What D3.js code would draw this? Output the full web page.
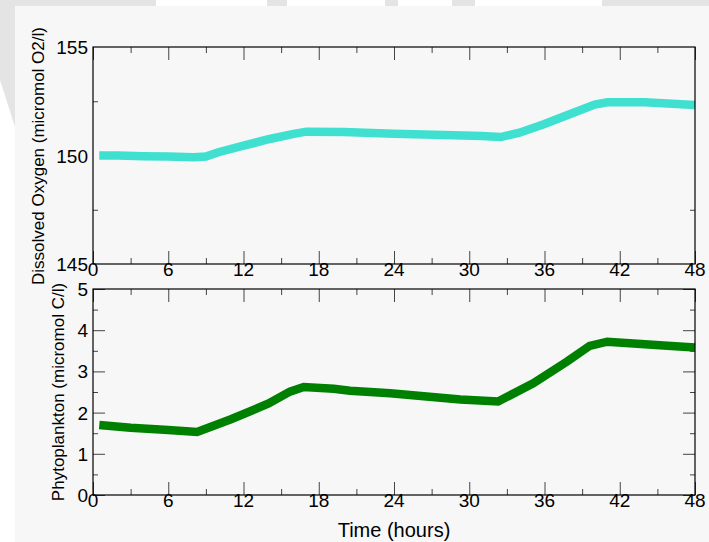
<!DOCTYPE html>
<html>
<head>
<meta charset="utf-8">
<script src="https://cdn.jsdelivr.net/npm/d3@7"></script>
<style>
  body { margin: 0; background: #ffffff; }
  svg { display: block; font-family: "Liberation Sans", Arial, sans-serif; }
</style>
</head>
<body>
<div class="chart"></div>
<script>
// hours for each series
const hours = [0.5, 2, 4, 6, 8, 9, 10, 12, 14, 16, 17, 20, 24, 28, 31, 32.5, 34, 36, 38, 40, 41, 44, 48];
const oxygen = [150.0, 150.0, 149.97, 149.95, 149.92, 149.95, 150.15, 150.45, 150.75, 151.0, 151.1, 151.08, 151.0, 150.95, 150.9, 150.85, 151.05, 151.45, 151.9, 152.35, 152.45, 152.45, 152.33];
const hoursP = [0.5, 3, 6, 8.3, 11, 14, 15.7, 16.8, 19.2, 20.5, 23.7, 26.6, 29.3, 32.3, 35.1, 37.8, 39.6, 41, 43.1, 45.8, 48];
const phyto = [1.7, 1.63, 1.58, 1.53, 1.84, 2.22, 2.51, 2.62, 2.58, 2.53, 2.47, 2.39, 2.32, 2.27, 2.71, 3.24, 3.62, 3.72, 3.68, 3.62, 3.58];

const xMajor = [0, 6, 12, 18, 24, 30, 36, 42, 48];
const xMinor = [3, 9, 15, 21, 27, 33, 39, 45];
const oxLabels = [145, 150, 155];
const oxMinor = [147.5, 152.5];
const phMajor = [0, 1, 2, 3, 4, 5];
const phMinor = [0.5, 1.5, 2.5, 3.5, 4.5];

const W = 709, H = 542;
const left = 93, right = 695;

const svg = d3.select(".chart").append("svg").attr("width", W).attr("height", H);

// background shapes
svg.append("rect").attr("x", 0).attr("y", 0).attr("width", W).attr("height", 7).attr("fill", "#e4e4e4");
[[156, 267], [287, 385], [398, 452], [475, 602]].forEach(function (r) {
  svg.append("rect").attr("x", r[0]).attr("y", 0).attr("width", r[1] - r[0]).attr("height", 7).attr("fill", "#ffffff");
});
svg.append("path").attr("d", "M0,0L15,0L15,127L0,80Z").attr("fill", "#e4e4e4");
svg.append("rect").attr("x", 15).attr("y", 6).attr("width", W - 15).attr("height", H - 6).attr("fill", "#f7f7f7");

const x = d3.scaleLinear().domain([0, 48]).range([left, right]);

function panel(top, bottom, y, majorY, minorY, yMajorTicks, values, xs, color) {
  const g = svg.append("g");
  // x ticks, bottom and top edges
  g.append("g").attr("transform", "translate(0," + bottom + ")")
    .call(d3.axisBottom(x).tickValues(xMajor).tickSize(-13).tickFormat(""));
  g.append("g").attr("transform", "translate(0," + bottom + ")")
    .call(d3.axisBottom(x).tickValues(xMinor).tickSize(-6).tickFormat(""));
  g.append("g").attr("transform", "translate(0," + top + ")")
    .call(d3.axisTop(x).tickValues(xMajor).tickSize(-13).tickFormat(""));
  g.append("g").attr("transform", "translate(0," + top + ")")
    .call(d3.axisTop(x).tickValues(xMinor).tickSize(-6).tickFormat(""));
  // y ticks, left and right edges
  g.append("g").attr("transform", "translate(" + left + ",0)")
    .call(d3.axisLeft(y).tickValues(yMajorTicks).tickSize(-12).tickFormat(""));
  g.append("g").attr("transform", "translate(" + left + ",0)")
    .call(d3.axisLeft(y).tickValues(minorY).tickSize(-5).tickFormat(""));
  g.append("g").attr("transform", "translate(" + right + ",0)")
    .call(d3.axisRight(y).tickValues(yMajorTicks).tickSize(-12).tickFormat(""));
  g.append("g").attr("transform", "translate(" + right + ",0)")
    .call(d3.axisRight(y).tickValues(minorY).tickSize(-5).tickFormat(""));
  g.selectAll(".domain").remove();
  g.selectAll(".tick line").attr("stroke", "#444");

  // data line
  const line = d3.line().x((d, i) => x(xs[i])).y((d) => y(d));
  svg.append("path").datum(values).attr("d", line)
    .attr("fill", "none").attr("stroke", color).attr("stroke-width", 8.5);

  // frame
  svg.append("rect").attr("x", left).attr("y", top)
    .attr("width", right - left).attr("height", bottom - top)
    .attr("fill", "none").attr("stroke", "#000").attr("stroke-width", 1.2);

  // labels
  svg.append("g").selectAll("text").data(xMajor).join("text")
    .attr("x", (d) => x(d)).attr("y", bottom + 12)
    .attr("text-anchor", "middle").style("font-size", "19px").text((d) => d);
  svg.append("g").selectAll("text").data(majorY).join("text")
    .attr("x", 88).attr("y", (d) => y(d) + 7)
    .attr("text-anchor", "end").style("font-size", "19px").text((d) => d);
}

const yOx = d3.scaleLinear().domain([145, 155]).range([264, 47]);
panel(47, 264, yOx, oxLabels, oxMinor, [], oxygen, hours, "#40e0d0");

const yPh = d3.scaleLinear().domain([0, 5]).range([495, 289]);
panel(289, 495, yPh, phMajor, phMinor, phMajor, phyto, hoursP, "#008000");

svg.append("text").attr("x", 394).attr("y", 537).attr("text-anchor", "middle")
  .style("font-size", "20px").text("Time (hours)");
svg.append("text").attr("transform", "translate(44,156) rotate(-90)")
  .attr("text-anchor", "middle").style("font-size", "17px")
  .text("Dissolved Oxygen (micromol O2/l)");
svg.append("text").attr("transform", "translate(64,392) rotate(-90)")
  .attr("text-anchor", "middle").style("font-size", "17px")
  .text("Phytoplankton (micromol C/l)");
</script>
</body>
</html>
